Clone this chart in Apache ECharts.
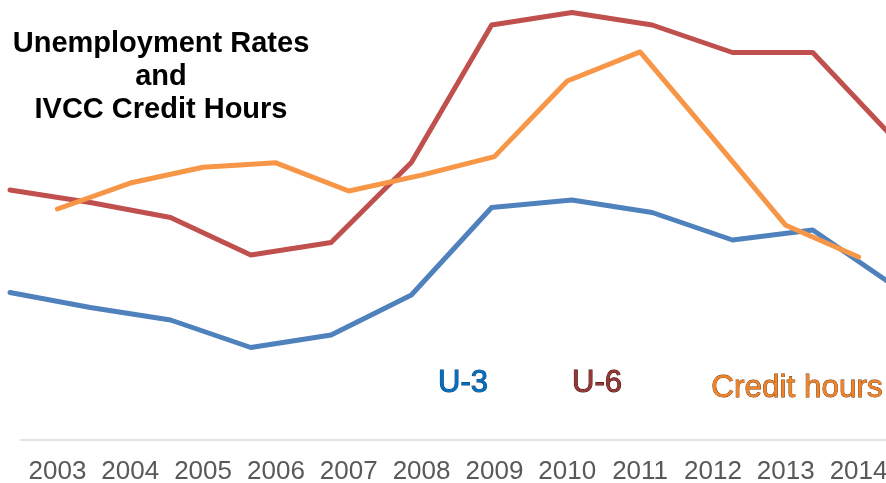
<!DOCTYPE html>
<html>
<head>
<meta charset="utf-8">
<script src="https://cdn.jsdelivr.net/npm/echarts@6/dist/echarts.min.js"></script>
<style>
  html, body { margin: 0; padding: 0; background: #fff; }
  #chart { width: 886px; height: 483px; }
</style>
</head>
<body>
<div id="chart"></div>
<script>
var years = ['2003','2004','2005','2006','2007','2008','2009','2010','2011','2012','2013','2014'];
// unemployment rates, percent
var u3 = [6.7, 6.1, 5.6, 4.5, 5.0, 6.6, 10.1, 10.4, 9.9, 8.8, 9.2, 7.0];
var u6 = [10.8, 10.3, 9.7, 8.2, 8.7, 11.9, 17.4, 17.9, 17.4, 16.3, 16.3, 12.9];
// IVCC credit hours
var creditHours = [76250, 79200, 81000, 81500, 78300, 80100, 82200, 90800, 94100, 84300, 74400, 70800];

var chart = echarts.init(document.getElementById('chart'));

var option = {
    animation: false,
    backgroundColor: '#ffffff',
    grid: [
        { left: 21, width: 874, top: 0, height: 440, outerBoundsMode: 'none', containLabel: false },   // credit hours, visible year axis
        { left: 10, width: 883, top: 0, height: 460, outerBoundsMode: 'none', containLabel: false }    // U-3 / U-6
    ],
    xAxis: [
        {
            type: 'category',
            gridIndex: 0,
            data: years,
            boundaryGap: true,
            axisLine: { show: true, lineStyle: { color: '#d9d9d9', width: 1.5 } },
            axisTick: { show: false },
            axisLabel: {
                color: '#595959',
                fontFamily: 'Liberation Sans',
                fontSize: 26,
                margin: 19,
                interval: 0
            },
            splitLine: { show: false }
        },
        {
            type: 'category',
            gridIndex: 1,
            data: years,
            boundaryGap: false,
            show: false
        }
    ],
    yAxis: [
        { type: 'value', gridIndex: 0, min: 50000, max: 100000, show: false, splitLine: { show: false } },
        { type: 'value', gridIndex: 1, min: 0, max: 18.4, show: false, splitLine: { show: false } }
    ],
    series: [
        {
            name: 'U-3',
            type: 'line',
            xAxisIndex: 1,
            yAxisIndex: 1,
            data: u3,
            symbol: 'none',
            lineStyle: { color: '#4F81BD', width: 5, cap: 'round', join: 'round' }
        },
        {
            name: 'U-6',
            type: 'line',
            xAxisIndex: 1,
            yAxisIndex: 1,
            data: u6,
            symbol: 'none',
            lineStyle: { color: '#C0504D', width: 5, cap: 'round', join: 'round' }
        },
        {
            name: 'Credit hours',
            type: 'line',
            xAxisIndex: 0,
            yAxisIndex: 0,
            data: creditHours,
            symbol: 'none',
            lineStyle: { color: '#F79646', width: 5, cap: 'round', join: 'round' }
        }
    ],
    graphic: [
        {
            type: 'text',
            x: 161, y: 27,
            style: {
                text: 'Unemployment Rates\nand\nIVCC Credit Hours',
                align: 'center',
                verticalAlign: 'top',
                fill: '#000',
                font: 'bold 29px "Liberation Sans"',
                lineHeight: 33
            }
        },
        {
            type: 'text',
            x: 463, y: 383,
            style: {
                text: 'U-3',
                align: 'center', verticalAlign: 'middle',
                fill: '#0070C0', stroke: '#1F3F6F', lineWidth: 1,
                font: '31px "Liberation Sans"'
            }
        },
        {
            type: 'text',
            x: 597, y: 383,
            style: {
                text: 'U-6',
                align: 'center', verticalAlign: 'middle',
                fill: '#953735', stroke: '#3F1010', lineWidth: 1,
                font: '31px "Liberation Sans"'
            }
        },
        {
            type: 'text',
            x: 797, y: 388,
            style: {
                text: 'Credit hours',
                align: 'center', verticalAlign: 'middle',
                fill: '#F08228', stroke: '#6B3408', lineWidth: 0.8,
                font: '31.5px "Liberation Sans"'
            }
        }
    ]
};

chart.setOption(option);
</script>
</body>
</html>
